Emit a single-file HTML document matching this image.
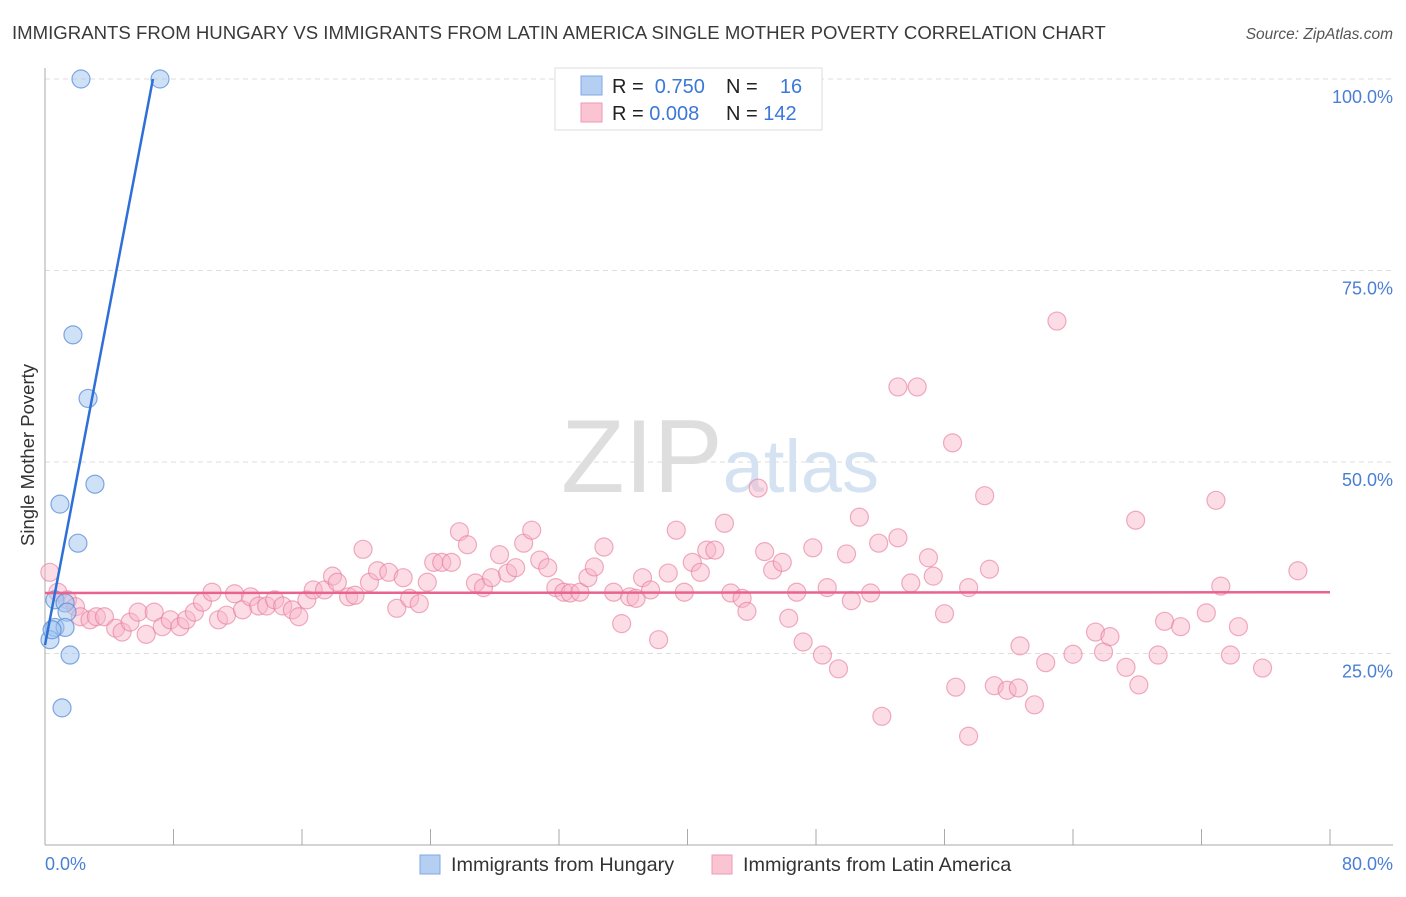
<!DOCTYPE html>
<html><head><meta charset="utf-8"><style>
body{margin:0;background:#fff;font-family:"Liberation Sans",sans-serif}
svg text{font-family:"Liberation Sans",sans-serif}
</style></head><body>
<svg id="chart" width="1406" height="892" xmlns="http://www.w3.org/2000/svg">
<text x="12" y="39" font-size="18.6" fill="#3a3a3a">IMMIGRANTS FROM HUNGARY VS IMMIGRANTS FROM LATIN AMERICA SINGLE MOTHER POVERTY CORRELATION CHART</text>
<text x="1393" y="39" font-size="15.5" fill="#555" font-style="italic" text-anchor="end">Source: ZipAtlas.com</text>
<g id="grid"></g>
<text x="720" y="492" font-size="104" text-anchor="middle" fill="#e6e6e6" font-family="Liberation Serif"><tspan fill="#dedede">ZIP</tspan><tspan fill="#d5e2f2" font-family="Liberation Sans" font-size="74">atlas</tspan></text>
<g id="pts"></g>
<g id="lines"></g>
<text transform="translate(34,455) rotate(-90)" font-size="18.5" fill="#333" text-anchor="middle">Single Mother Poverty</text>
<text x="45" y="870" font-size="18" fill="#4a7fd4">0.0%</text>
<text x="1393" y="870" font-size="18" fill="#4a7fd4" text-anchor="end">80.0%</text>
<g>
<rect x="555" y="68" width="267" height="62" fill="#fff" stroke="#ddd"/>
<rect x="581" y="76" width="21" height="19" fill="#b5cff3" stroke="#7fa9e6"/>
<rect x="581" y="103" width="21" height="19" fill="#fac4d3" stroke="#ee9ab4"/>
<text x="612" y="93" font-size="20" fill="#222">R = <tspan fill="#3b78d8">&#160;0.750</tspan></text>
<text x="726" y="93" font-size="20" fill="#222">N = <tspan fill="#3b78d8">&#160;&#160;&#160;16</tspan></text>
<text x="612" y="120" font-size="20" fill="#222">R = <tspan fill="#3b78d8">0.008</tspan></text>
<text x="726" y="120" font-size="20" fill="#222">N = <tspan fill="#3b78d8">142</tspan></text>
</g>
<g>
<rect x="420" y="855" width="20" height="19" fill="#b5cff3" stroke="#7fa9e6"/>
<text x="451" y="871" font-size="19.8" fill="#333">Immigrants from Hungary</text>
<rect x="712" y="855" width="20" height="19" fill="#fac4d3" stroke="#ee9ab4"/>
<text x="743" y="871" font-size="19.8" fill="#333">Immigrants from Latin America</text>
</g>
</svg>
<script>
const yTicks=[25,50,75,100];
const yTickLabels=["25.0%","50.0%","75.0%","100.0%"];
const xTicks=[0,8,16,24,32,40,48,56,64,72,80];
const hungaryX=[2.24,7.16,1.74,2.68,3.11,0.93,2.05,0.62,1.25,1.37,0.62,1.25,0.31,1.56,1.06,0.44];
const hungaryY=[100,100,66.6,58.3,47.1,44.5,39.4,32.0,31.6,30.4,28.4,28.4,26.8,24.8,17.9,28.1];
const latinX=[0.3,0.8,1.4,1.9,2.2,2.8,3.2,3.7,4.4,4.8,5.3,5.8,6.3,6.8,7.3,7.8,8.4,8.8,9.3,9.8,10.4,10.8,11.3,11.8,12.3,12.8,13.3,13.8,14.3,14.8,15.4,15.8,16.3,16.7,17.4,17.9,18.2,18.9,19.3,19.8,20.2,20.7,21.4,21.9,22.3,22.7,23.3,23.8,24.2,24.7,25.3,25.8,26.3,26.8,27.3,27.8,28.3,28.8,29.3,29.8,30.3,30.8,31.3,31.8,32.3,32.7,33.3,33.8,34.2,34.8,35.4,35.9,36.4,36.8,37.2,37.7,38.2,38.8,39.3,39.8,40.3,40.8,41.2,41.7,42.3,42.7,43.4,43.7,44.4,44.8,45.3,45.9,46.3,46.8,47.2,47.8,48.4,48.7,49.4,49.9,50.2,50.7,51.4,51.9,52.1,53.1,53.1,53.9,54.3,55.0,55.3,56.0,56.5,56.7,57.5,57.5,58.5,58.8,59.1,59.9,60.6,60.7,61.6,62.3,63.0,64.0,65.4,65.9,66.3,67.3,67.9,68.1,69.3,69.7,70.7,72.3,72.9,73.2,73.8,74.3,75.8,78.0];
const latinY=[35.6,33.0,32.0,31.1,29.8,29.4,29.8,29.8,28.3,27.8,29.1,30.4,27.5,30.4,28.5,29.4,28.5,29.4,30.4,31.7,33.0,29.4,30.0,32.8,30.7,32.4,31.2,31.2,32.0,31.2,30.7,29.8,32.0,33.3,33.3,35.1,34.3,32.4,32.6,38.6,34.3,35.8,35.6,30.9,34.9,32.2,31.5,34.3,36.9,36.9,36.9,40.9,39.2,34.2,33.6,34.9,37.9,35.5,36.2,39.4,41.1,37.2,36.2,33.6,33.0,32.9,33.0,34.9,36.3,38.9,33.0,28.9,32.4,32.2,34.9,33.3,26.8,35.5,41.1,33.0,36.9,35.6,38.5,38.5,42.0,32.9,32.2,30.5,46.6,38.3,35.9,36.9,29.6,33.0,26.5,38.8,24.8,33.6,23.0,38.0,31.9,42.8,32.9,39.4,16.8,40.1,59.8,34.2,59.8,37.5,35.1,30.2,52.5,20.6,33.6,14.2,45.6,36.0,20.8,20.2,20.5,26.0,18.3,23.8,68.4,24.9,27.8,25.2,27.2,23.2,42.4,20.9,24.8,29.2,28.5,30.3,45.0,33.8,24.8,28.5,23.1,35.8];
const hungaryTrend=[[0,26.1],[6.72,100]];
const latinTrend=[[0,32.9],[80,33.0]];
const NS="http://www.w3.org/2000/svg";
const X=v=>45+v/80*1285, Y=v=>845-v/100*766;
function mk(t,a,p){const e=document.createElementNS(NS,t);for(const k in a)e.setAttribute(k,a[k]);p.appendChild(e);return e;}
const grid=document.getElementById('grid');
yTicks.forEach((t,i)=>{
 const l=mk('line',{x1:45,x2:1393,y1:Y(t),y2:Y(t),stroke:'#ddd','stroke-dasharray':'5,4'},grid);
 
 
 const tx=mk('text',{x:1393,y:Y(t)+24,'font-size':18,fill:'#4a7fd4','text-anchor':'end'},grid);
 tx.textContent=yTickLabels[i];
 
 
});
const ya=mk('line',{x1:45,x2:45,y1:68,y2:845,stroke:'#aaa'},grid);


const xa=mk('line',{x1:45,x2:1393,y1:845,y2:845,stroke:'#aaa'},grid);


xTicks.forEach(t=>{
 const l=mk('line',{x1:X(t),x2:X(t),y1:829,y2:845,stroke:'#aaa'},grid);
 
 
});
const pts=document.getElementById('pts');
latinX.forEach((v,i)=>{
 const c=mk('circle',{cx:X(v),cy:Y(latinY[i]),r:9,fill:'rgba(248,180,200,0.45)',stroke:'rgba(230,120,155,0.6)','stroke-width':1.2},pts);
 
 
});
hungaryX.forEach((v,i)=>{
 const c=mk('circle',{cx:X(v),cy:Y(hungaryY[i]),r:9,fill:'rgba(160,196,240,0.5)',stroke:'rgba(90,140,215,0.75)','stroke-width':1.2},pts);
 
 
});
const lines=document.getElementById('lines');
const lt=mk('line',{x1:X(latinTrend[0][0]),y1:Y(latinTrend[0][1]),x2:X(latinTrend[1][0]),y2:Y(latinTrend[1][1]),stroke:'#e8638f','stroke-width':2.5},lines);


const ht=mk('line',{x1:X(hungaryTrend[0][0]),y1:Y(hungaryTrend[0][1]),x2:X(hungaryTrend[1][0]),y2:Y(hungaryTrend[1][1]),stroke:'#2f6fd8','stroke-width':2.5},lines);


</script>
</body></html>
